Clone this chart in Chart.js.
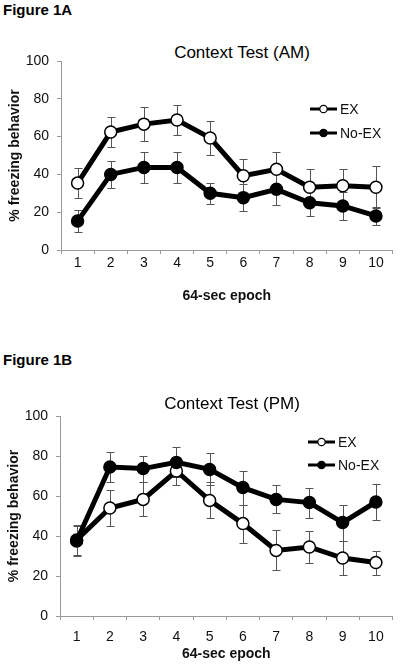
<!DOCTYPE html>
<html>
<head>
<meta charset="utf-8">
<script src="https://cdn.jsdelivr.net/npm/chart.js@4.4.0/dist/chart.umd.min.js"></script>
<style>
	body { margin: 0; background: #fff; font-family: "Liberation Sans", Arial, sans-serif; color: #000; }
	#page { position: relative; width: 400px; height: 666px; overflow: hidden; }
	canvas { position: absolute; left: 0; }
	.fig { position: absolute; left: 3px; font-weight: bold; font-size: 15px; line-height: 18px; }
	.title { position: absolute; font-size: 17px; line-height: 20px; white-space: nowrap; transform: translateX(-50%); }
</style>
</head>
<body>
<div id="page">
	<div class="fig" style="top:1px">Figure 1A</div>
	<div class="title" style="left:242px; top:43px">Context Test (AM)</div>
	<canvas id="chartA" width="400" height="320" style="top:0px"></canvas>

	<div class="fig" style="top:351px">Figure 1B</div>
	<canvas id="chartB" width="400" height="346" style="top:320px"></canvas>
	<div class="title" style="left:232px; top:394px">Context Test (PM)</div>
</div>
<script>
// data
const epochs = ['1', '2', '3', '4', '5', '6', '7', '8', '9', '10'];
const seriesNames = ['EX', 'No-EX'];

const amEx = [35.4, 62.4, 66.6, 68.8, 59.3, 39.3, 42.7, 33.2, 34, 33.2];
const amExErr = [8, 8, 9, 8, 9, 9, 9, 9.5, 9, 11];
const amNoEx = [15.3, 40, 43.7, 43.7, 30, 27.7, 32.1, 25, 23.3, 18];
const amNoExErr = [6, 7, 8, 8, 5.5, 7, 8.5, 7, 7.5, 5];

const pmEx = [38, 54, 58.3, 72.5, 57.8, 46.2, 32.8, 34.5, 29, 26.7];
const pmExErr = [7.5, 9, 8.5, 7, 9, 9.5, 10, 8, 8.7, 6];
const pmNoEx = [37.5, 74.5, 73.7, 76.8, 73.3, 64.2, 58.3, 56.7, 46.7, 57];
const pmNoExErr = [7.5, 7.5, 6.5, 7.5, 8, 8.5, 7, 7.5, 9, 9];

const yMin = 0, yMax = 100, yStep = 20;
const yTitle = '% freezing behavior';
const xTitle = '64-sec epoch';

const FONT = '"Liberation Sans", Arial, sans-serif';
const AXIS = '#9a9a9a';

// vertical error bars, drawn under the lines
const errorBars = {
	id: 'errorBars',
	beforeDatasetsDraw(chart, args, opts) {
		let ctx = chart.ctx;
		let y = chart.scales.y;
		ctx.save();
		ctx.strokeStyle = opts.color;
		ctx.lineWidth = 1;
		chart.data.datasets.forEach((ds, i) => {
			let meta = chart.getDatasetMeta(i);
			meta.data.forEach((pt, j) => {
				let v = ds.data[j], e = ds.errors[j];
				let top = Math.round(y.getPixelForValue(v + e)) + 0.5;
				let bot = Math.round(y.getPixelForValue(v - e)) + 0.5;
				let x = Math.round(pt.x) + 0.5;
				ctx.beginPath();
				ctx.moveTo(x, top); ctx.lineTo(x, bot);
				ctx.moveTo(x - opts.cap, top); ctx.lineTo(x + opts.cap, top);
				ctx.moveTo(x - opts.cap, bot); ctx.lineTo(x + opts.cap, bot);
				ctx.stroke();
			});
		});
		ctx.restore();
	}
};

// line + marker legend like the original figure
const lineLegend = {
	id: 'lineLegend',
	afterDatasetsDraw(chart, args, opts) {
		let ctx = chart.ctx;
		let area = chart.chartArea;
		ctx.save();
		chart.data.datasets.forEach((ds, i) => {
			let x = area.left + opts.x;
			let y = area.top + opts.y + i * opts.gap;
			ctx.strokeStyle = '#000';
			ctx.lineWidth = 3;
			ctx.beginPath();
			ctx.moveTo(x, y); ctx.lineTo(x + 27, y);
			ctx.stroke();
			ctx.beginPath();
			ctx.arc(x + 13.5, y, 3.7, 0, Math.PI * 2);
			ctx.fillStyle = ds.pointBackgroundColor;
			ctx.fill();
			ctx.lineWidth = 1.2;
			ctx.stroke();
			ctx.fillStyle = '#111';
			ctx.font = '14px ' + FONT;
			ctx.textBaseline = 'middle';
			ctx.fillText(ds.label, x + 30, y + 1);
		});
		ctx.restore();
	}
};

function makeDataset(label, values, errors, fill, order) {
	return {
		label: label,
		data: values,
		errors: errors,
		borderColor: '#000',
		borderWidth: 5,
		pointRadius: 6,
		pointBorderWidth: 1.5,
		pointBorderColor: '#000',
		pointBackgroundColor: fill,
		tension: 0,
		order: order
	};
}

function draw(id, ex, exErr, noEx, noExErr, opts) {
	let ctx = document.getElementById(id);
	return new Chart(ctx, {
		type: 'line',
		data: {
			labels: epochs,
			datasets: [
				makeDataset(seriesNames[0], ex, exErr, '#fff', 2),
				makeDataset(seriesNames[1], noEx, noExErr, '#000', 1)
			]
		},
		plugins: [errorBars, lineLegend],
		options: {
			responsive: false,
			devicePixelRatio: 1,
			animation: false,
			layout: { padding: opts.padding },
			plugins: {
				legend: { display: false },
				tooltip: { enabled: false },
				title: { display: false },
				errorBars: { color: '#555', cap: 4 },
				lineLegend: opts.legend
			},
			scales: {
				x: {
					type: 'category',
					offset: true,
					grid: { offset: true, drawOnChartArea: false, drawTicks: true, tickLength: 4, color: AXIS },
					border: { color: AXIS, width: 1 },
					ticks: { color: '#111', font: { family: FONT, size: 14 }, padding: opts.xTickPad, maxRotation: 0 },
					title: { display: true, text: xTitle, color: '#111', font: { family: FONT, size: 14, weight: 'bold' }, padding: 0 },
					afterFit: s => { s.height = opts.xHeight; }
				},
				y: {
					min: yMin,
					max: yMax,
					grid: { drawOnChartArea: false, drawTicks: true, tickLength: 4, color: AXIS },
					border: { color: AXIS, width: 1 },
					ticks: { stepSize: yStep, color: '#111', font: { family: FONT, size: 14 }, padding: 8 },
					title: { display: true, text: yTitle, color: '#111', font: { family: FONT, size: 14, weight: 'bold' }, padding: { top: opts.yTitlePad, bottom: 0 } },
					afterFit: s => { s.width = opts.yWidth; }
				}
			}
		}
	});
}

draw('chartA', amEx, amExErr, amNoEx, amNoExErr, {
	padding: { top: 61, right: 3, bottom: 15, left: 0 },
	xHeight: 55,
	xTickPad: 1,
	yWidth: 61,
	yTitlePad: 6.5,
	legend: { x: 249, y: 48, gap: 24 }
});

draw('chartB', pmEx, pmExErr, pmNoEx, pmNoExErr, {
	padding: { top: 96, right: 3, bottom: 3, left: 0 },
	xHeight: 47,
	xTickPad: 9,
	yWidth: 60,
	yTitlePad: 6,
	legend: { x: 248, y: 26, gap: 23 }
});
</script>
</body>
</html>
